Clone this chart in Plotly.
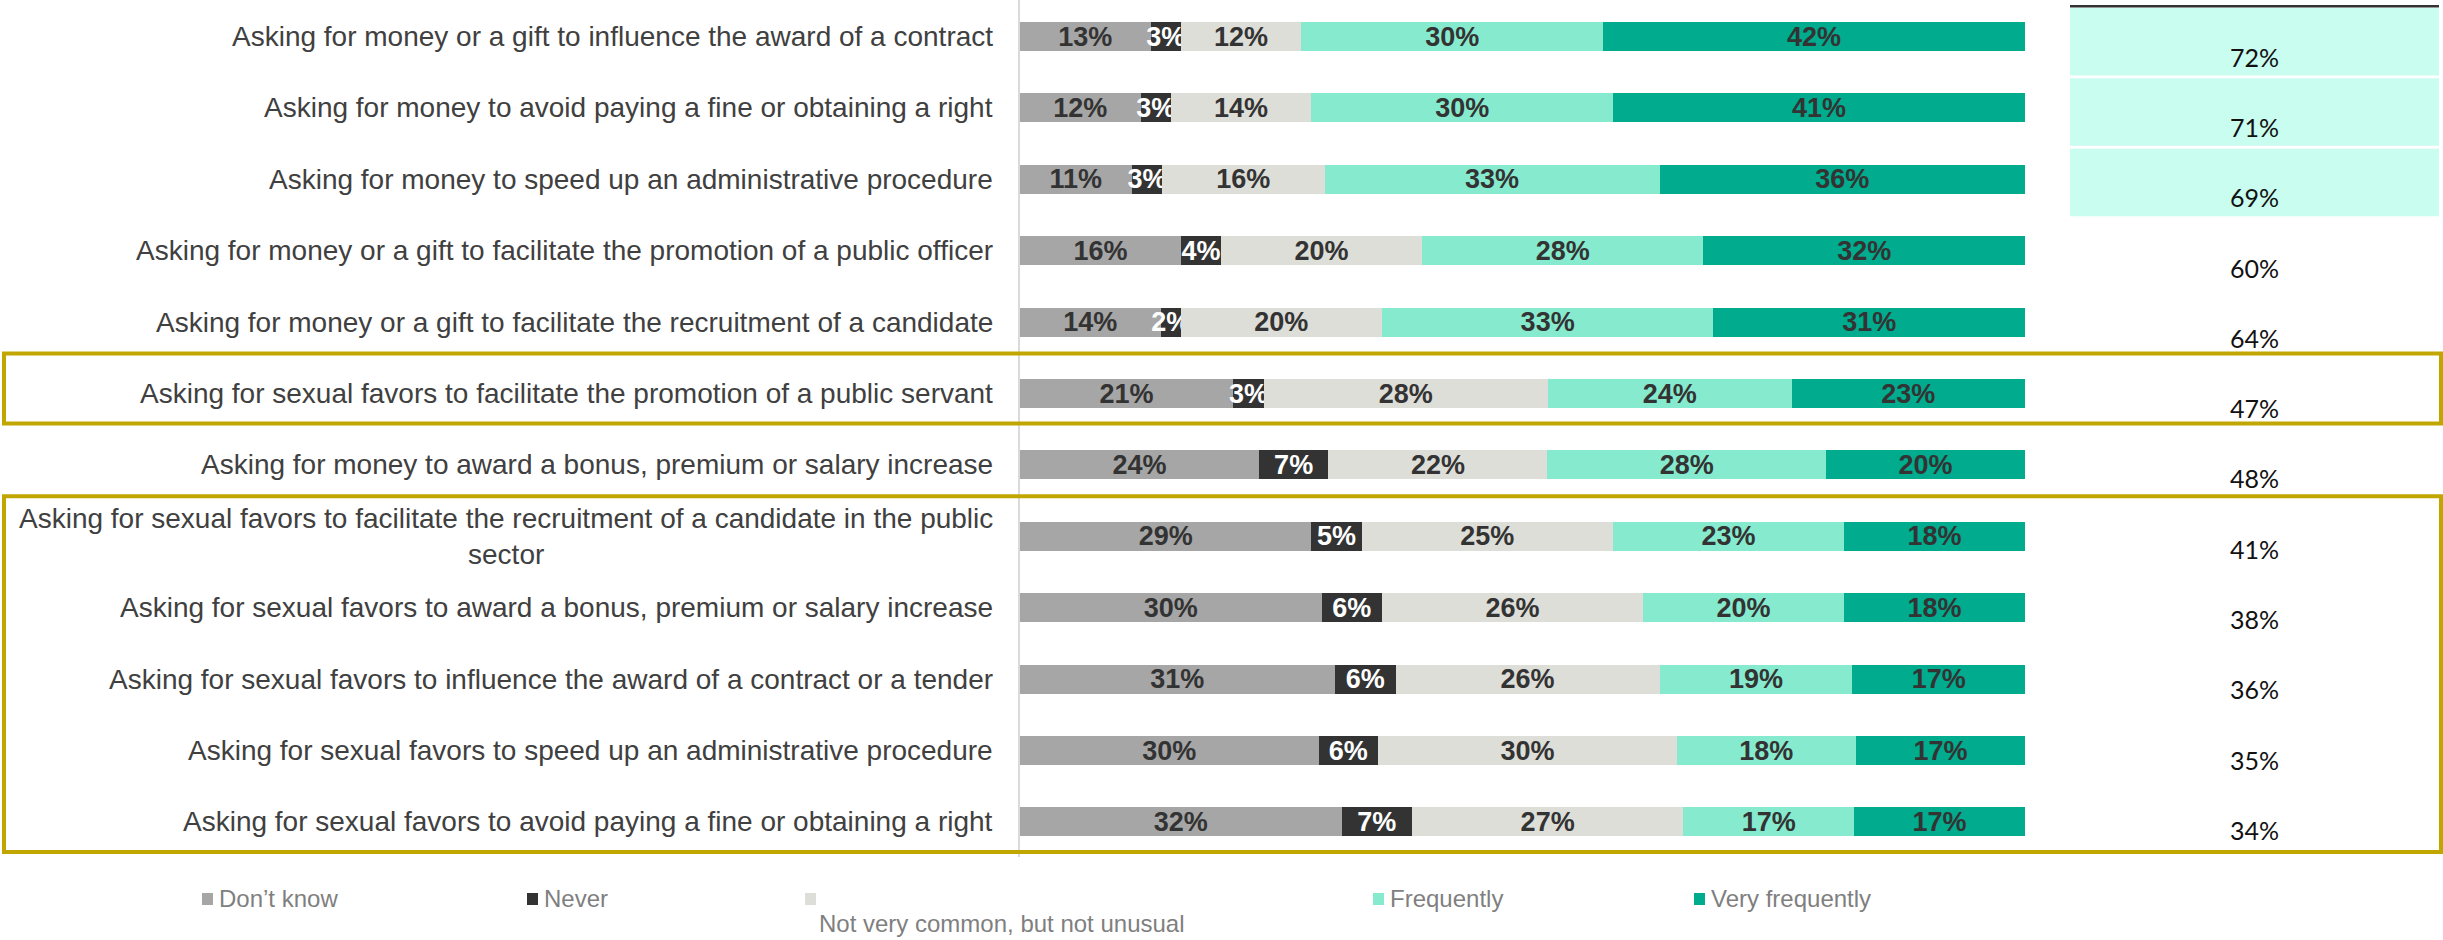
import plotly.graph_objects as go

# ---- data -----------------------------------------------------------------
behaviours = [
    "Asking for money or a gift to influence the award of a contract",
    "Asking for money to avoid paying a fine or obtaining a right",
    "Asking for money to speed up an administrative procedure",
    "Asking for money or a gift to facilitate the promotion of a public officer",
    "Asking for money or a gift to facilitate the recruitment of a candidate",
    "Asking for sexual favors to facilitate the promotion of a public servant",
    "Asking for money to award a bonus, premium or salary increase",
    "Asking for sexual favors to facilitate the recruitment of a candidate in the public<br>sector",
    "Asking for sexual favors to award a bonus, premium or salary increase",
    "Asking for sexual favors to influence the award of a contract or a tender",
    "Asking for sexual favors to speed up an administrative procedure",
    "Asking for sexual favors to avoid paying a fine or obtaining a right",
]

dont_know = [13, 12, 11, 16, 14, 21, 24, 29, 30, 31, 30, 32]
never = [3, 3, 3, 4, 2, 3, 7, 5, 6, 6, 6, 7]
not_very_common = [12, 14, 16, 20, 20, 28, 22, 25, 26, 26, 30, 27]
frequently = [30, 30, 33, 28, 33, 24, 28, 23, 20, 19, 18, 17]
very_frequently = [42, 41, 36, 32, 31, 23, 20, 18, 18, 17, 17, 17]

series_names = ["Don\u2019t know", "Never", "Not very common, but not unusual",
                "Frequently", "Very frequently"]
series_values = [dont_know, never, not_very_common, frequently, very_frequently]

# rows framed as the sexual-favour groups
framed_groups = [(5, 5), (7, 11)]
# how many of the top "frequently + very frequently" cells are shaded
n_shaded = 3

# ---- styling ----------------------------------------------------------------
colors = ["#A6A6A6", "#333333", "#DEDED9", "#86EBCE", "#00AB8E"]
label_colors = ["#333333", "#FFFFFF", "#333333", "#333333", "#333333"]
SANS = "Liberation Sans, Arial, sans-serif"

W, H = 2443, 940
PLOT_BOTTOM = 857          # pixel row where the plotting area ends
ROW_PITCH, ROW0 = 71.4, 36.5      # bar rows
TAB_PITCH, TAB0 = 70.3, 7.0       # right-hand summary column rows


def px_x(p):
    return p / W


def px_y(p):
    return (PLOT_BOTTOM - p) / PLOT_BOTTOM


rows = list(range(len(behaviours)))
fig = go.Figure()

for name, vals, col, tcol in zip(series_names, series_values, colors, label_colors):
    fig.add_trace(go.Bar(
        y=rows, x=vals, name=name, orientation="h",
        marker=dict(color=col, line=dict(width=0)),
        text=[f"{v}%" for v in vals], texttemplate="%{text}",
        textposition="inside", insidetextanchor="middle",
        textangle=0, constraintext="none",
        insidetextfont=dict(family=SANS, size=27, color=tcol, weight="bold"),
        showlegend=False, hoverinfo="skip",
    ))

# summary column: share answering "frequently" or "very frequently"
freq_total = [f + vf for f, vf in zip(frequently, very_frequently)]
fig.add_trace(go.Scatter(
    x=[0.5] * len(rows), y=[r + 0.76 for r in rows],
    text=[f"{v}%" for v in freq_total], mode="text",
    textfont=dict(family="Lato, Open Sans, sans-serif", size=25, color="#111111"),
    xaxis="x2", yaxis="y2", showlegend=False, hoverinfo="skip",
))

shapes = []
top_rows = sorted(rows, key=lambda r: -freq_total[r])[:n_shaded]
for r in top_rows:
    shapes.append(dict(type="rect", xref="x2", yref="y2", x0=0, x1=1,
                       y0=r + 0.015, y1=r + 0.975, fillcolor="#C8FDF0",
                       line=dict(width=0), layer="below"))
shapes.append(dict(type="line", xref="x2", yref="y2", x0=0, x1=1,
                   y0=-0.012, y1=-0.012, line=dict(color="#333333", width=2.5)))

for a, b in framed_groups:
    shapes.append(dict(type="rect", xref="paper", yref="y",
                       x0=px_x(4), x1=px_x(2441),
                       y0=a - 0.5 - 0.06, y1=b + 0.5 - 0.08,
                       line=dict(color="#C2A600", width=4),
                       fillcolor="rgba(0,0,0,0)"))

annotations = []
for r, lab in zip(rows, behaviours):
    annotations.append(dict(
        x=px_x(995), y=r, xref="paper", yref="y", text=lab,
        xanchor="right", yanchor="middle", align="center", showarrow=False,
        font=dict(family=SANS, size=28, color="#404040"),
    ))

# legend, drawn by hand
legend_left = [202, 527, 805, 1373, 1694]
legend_cy = 899
for i, (name, col, lx) in enumerate(zip(series_names, colors, legend_left)):
    shapes.append(dict(type="rect", xref="paper", yref="paper",
                       x0=px_x(lx), x1=px_x(lx + 11),
                       y0=px_y(legend_cy + 6), y1=px_y(legend_cy - 6),
                       fillcolor=col, line=dict(width=0)))
    if i == 2:
        tx, ty = lx + 12, legend_cy + 25
    else:
        tx, ty = lx + 15, legend_cy
    annotations.append(dict(
        x=px_x(tx), y=px_y(ty), xref="paper", yref="paper", text=name,
        xanchor="left", yanchor="middle", showarrow=False,
        font=dict(family=SANS, size=24, color="#7F7F7F"),
    ))

fig.update_layout(
    width=W, height=H,
    margin=dict(l=0, r=0, t=0, b=H - PLOT_BOTTOM, pad=0),
    paper_bgcolor="white", plot_bgcolor="white",
    barmode="stack", barnorm="percent", bargap=1 - 29 / ROW_PITCH,
    xaxis=dict(domain=[px_x(1020), px_x(2025)], range=[0, 100],
               showgrid=False, zeroline=False, showticklabels=False,
               showline=False, fixedrange=True),
    yaxis=dict(range=[(PLOT_BOTTOM - ROW0) / ROW_PITCH, -ROW0 / ROW_PITCH],
               showgrid=False, zeroline=False, showticklabels=False,
               showline=True, linecolor="#DADADA", linewidth=2,
               ticks="", fixedrange=True),
    xaxis2=dict(domain=[px_x(2070), px_x(2439)], range=[0, 1], anchor="y2",
                visible=False, fixedrange=True),
    yaxis2=dict(range=[(PLOT_BOTTOM - TAB0) / TAB_PITCH, -TAB0 / TAB_PITCH],
                anchor="x2", visible=False, fixedrange=True),
    shapes=shapes, annotations=annotations,
    showlegend=False,
)

fig.write_html("out.html")
